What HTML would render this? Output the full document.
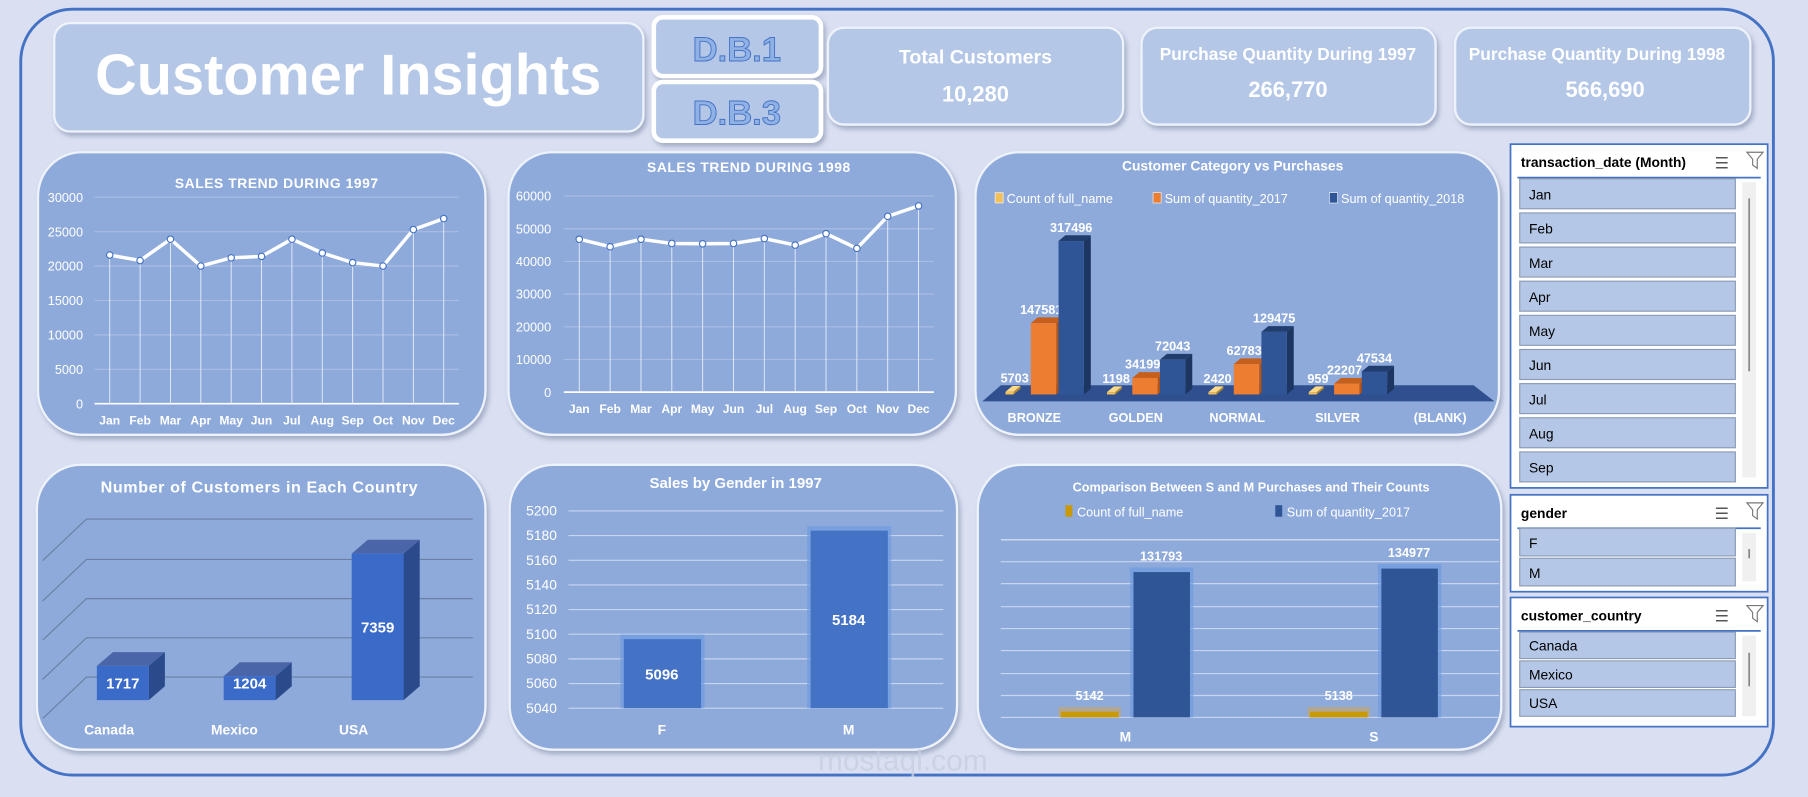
<!DOCTYPE html>
<html><head><meta charset="utf-8">
<style>
html,body{margin:0;padding:0;background:#dae0f2;}
svg{display:block;font-family:"Liberation Sans",sans-serif;}
</style></head>
<body>
<svg id="dash" width="1808" height="797" viewBox="0 0 1568 691" preserveAspectRatio="none" xmlns="http://www.w3.org/2000/svg">
<defs>
<filter id="sh" x="-10%" y="-10%" width="120%" height="130%"><feDropShadow dx="2" dy="3" stdDeviation="2" flood-color="#7f8aa8" flood-opacity="0.6"/></filter>
</defs>
<rect x="0" y="0" width="1568" height="691" fill="#dae0f2"/>
<rect x="18" y="8" width="1520" height="664" rx="45" fill="none" stroke="#4472c4" stroke-width="2.5"/>
<!-- header -->
<g>
<rect x="47" y="20" width="511" height="94" rx="14" fill="#b4c7e7" stroke="#eef2fa" stroke-width="2" filter="url(#sh)"/>
<text x="302" y="82" text-anchor="middle" font-size="50" font-weight="bold" fill="#ffffff">Customer Insights</text>
</g>
<g>
<rect x="567" y="15" width="145" height="51" rx="8" fill="#b4c7e7" stroke="#ffffff" stroke-width="4" filter="url(#sh)"/>
<text x="639" y="53" text-anchor="middle" font-size="30" font-weight="bold" fill="#8fb1e6" stroke="#4472c4" stroke-width="0.8">D.B.1</text>
</g>
<g>
<rect x="567" y="71" width="145" height="51" rx="8" fill="#b4c7e7" stroke="#ffffff" stroke-width="4" filter="url(#sh)"/>
<text x="639" y="108" text-anchor="middle" font-size="30" font-weight="bold" fill="#8fb1e6" stroke="#4472c4" stroke-width="0.8">D.B.3</text>
</g>
<g>
<rect x="718" y="24" width="256" height="84" rx="14" fill="#b4c7e7" stroke="#eef2fa" stroke-width="2" filter="url(#sh)"/>
<text x="846" y="55" text-anchor="middle" font-size="17" font-weight="bold" fill="#fff">Total Customers</text>
<text x="846" y="88" text-anchor="middle" font-size="19" font-weight="bold" fill="#fff">10,280</text>
</g>
<g>
<rect x="990" y="24" width="255" height="84" rx="14" fill="#b4c7e7" stroke="#eef2fa" stroke-width="2" filter="url(#sh)"/>
<text x="1117" y="52" text-anchor="middle" font-size="15" font-weight="bold" fill="#fff">Purchase Quantity During 1997</text>
<text x="1117" y="84" text-anchor="middle" font-size="19" font-weight="bold" fill="#fff">266,770</text>
</g>
<g>
<rect x="1262" y="24" width="256" height="84" rx="14" fill="#b4c7e7" stroke="#eef2fa" stroke-width="2" filter="url(#sh)"/>
<text x="1385" y="52" text-anchor="middle" font-size="15" font-weight="bold" fill="#fff">Purchase Quantity During 1998</text>
<text x="1392" y="84" text-anchor="middle" font-size="19" font-weight="bold" fill="#fff">566,690</text>
</g>
<!-- panels -->
<g fill="#8eaadb" stroke="#eef2fa" stroke-width="2">
<rect x="33" y="132" width="388" height="245" rx="38" filter="url(#sh)"/>
<rect x="441" y="132" width="388" height="245" rx="38" filter="url(#sh)"/>
<rect x="846" y="132" width="454" height="245" rx="38" filter="url(#sh)"/>
<rect x="32" y="403" width="389" height="247" rx="38" filter="url(#sh)"/>
<rect x="442" y="403" width="388" height="247" rx="38" filter="url(#sh)"/>
<rect x="848" y="403" width="454" height="247" rx="38" filter="url(#sh)"/>
</g>
<g id="charts"></g>
<g id="slicers"></g>
<text x="783" y="668" text-anchor="middle" font-size="26" fill="#c8cfe0" opacity="0.8">mostaql.com</text>
</svg>
<script>
const months=["Jan","Feb","Mar","Apr","May","Jun","Jul","Aug","Sep","Oct","Nov","Dec"];
const sales1997=[21600,20800,23900,20000,21200,21400,23900,21900,20500,20000,25300,26900];
const sales1998=[46800,44500,46800,45500,45400,45500,47000,45000,48500,44000,53800,57000];
const ticks1997=[0,5000,10000,15000,20000,25000,30000];
const ticks1998=[0,10000,20000,30000,40000,50000,60000];
const catNames=["BRONZE","GOLDEN","NORMAL","SILVER","(BLANK)"];
const catCount=[5703,1198,2420,959,0];
const catQ2017=[147581,34199,62783,22207,0];
const catQ2018=[317496,72043,129475,47534,0];
const countries=["Canada","Mexico","USA"];
const countryCustomers=[1717,1204,7359];
const genders=["F","M"];
const genderSales=[5096,5184];
const genderTicks=[5040,5060,5080,5100,5120,5140,5160,5180,5200];
const cmpCats=["M","S"];
const cmpCount=[5142,5138];
const cmpQty=[131793,134977];
const NS="http://www.w3.org/2000/svg";
const root=document.getElementById('charts');
function mk(tag,attrs,parent,txt){const e=document.createElementNS(NS,tag);for(const k in attrs)e.setAttribute(k,attrs[k]);if(txt!==undefined)e.textContent=txt;(parent||root).appendChild(e);return e;}

function lineChart(name,title,titleY,data,ticks,x0,x1,yTop,yBot,axisX){
  const g=mk('g',{});
  
  
  const max=ticks[ticks.length-1];
  const ys=v=>yBot-(v/max)*(yBot-yTop);
  const step=(x1-x0)/data.length;
  const xs=i=>x0+step*(i+0.5);
  const t=mk('text',{x:(x0+x1)/2,y:titleY,'text-anchor':'middle','font-size':12,'font-weight':'bold',fill:'#fff','letter-spacing':'0.5'},g,title);
  
  
  ticks.forEach(v=>{
    const l=mk('line',{x1:x0,x2:x1,y1:ys(v),y2:ys(v),stroke:v===0?'#ffffff':'#a9bde3','stroke-width':v===0?1.5:1},g);
    
    
    const tl=mk('text',{x:axisX,y:ys(v)+4,'text-anchor':'end','font-size':11,fill:'#fff'},g,v);
    
    
  });
  let pts=[];
  data.forEach((v,i)=>{
    const dl=mk('line',{x1:xs(i),x2:xs(i),y1:ys(v),y2:yBot,stroke:'#e6ecf8','stroke-width':0.8},g);
    
    
    pts.push(xs(i)+','+ys(v));
    const ml=mk('text',{x:xs(i),y:yBot+18,'text-anchor':'middle','font-size':10.5,'font-weight':'bold',fill:'#fff'},g,months[i]);
    
    
  });
  const pl=mk('polyline',{points:pts.join(' '),fill:'none',stroke:'#ffffff','stroke-width':3},g);
  
  
  data.forEach((v,i)=>{
    const c=mk('circle',{cx:xs(i),cy:ys(v),r:2.8,fill:'#fff',stroke:'#4472c4','stroke-width':1},g);
    
    
  });
}
lineChart('sales-trend-1997-chart','SALES TREND DURING 1997',163,sales1997,ticks1997,82,398,171,350,72);
lineChart('sales-trend-1998-chart','SALES TREND DURING 1998',149,sales1998,ticks1998,489,810,170,340,478);

// category 3D-ish chart
(function(){
  const g=mk('g',{});
  
  
  const t=mk('text',{x:1069,y:148,'text-anchor':'middle','font-size':12,'font-weight':'bold',fill:'#fff'},g,'Customer Category vs Purchases');
  
  
  const leg=[['Count of full_name','#f2c15c',863],['Sum of quantity_2017','#ed7d31',1000],['Sum of quantity_2018','#2f5597',1153]];
  leg.forEach(l=>{
    const r=mk('rect',{x:l[2],y:167,width:7,height:9,fill:l[1],stroke:'#fff','stroke-width':0.5},g);
    
    
    const tx=mk('text',{x:l[2]+10,y:176,'font-size':11,fill:'#fff'},g,l[0]);
    
    
  });
  const base=342, scale=133/317496;
  const floor=mk('polygon',{points:'852,348 1296,348 1278,334 868,334',fill:'#2f4f8f'},g);
  
  
  const centers=[897,985,1073,1160,1249];
  function bar3d(x,w,v,col,top,side,label,lx){
    const h=Math.max(2,v*scale), y=base-h;
    const s=mk('polygon',{points:`${x+w},${y} ${x+w+6},${y-5} ${x+w+6},${base-5} ${x+w},${base}`,fill:side},g);
    
    
    const tp=mk('polygon',{points:`${x},${y} ${x+6},${y-5} ${x+w+6},${y-5} ${x+w},${y}`,fill:top},g);
    
    
    const r=mk('rect',{x:x,y:y,width:w,height:h,fill:col},g);
    
    
    if(label!==null){
      const tx=mk('text',{x:lx,y:y-8,'text-anchor':'middle','font-size':11,'font-weight':'bold',fill:'#fff'},g,label);
      
      
    }
  }
  catNames.forEach((n,i)=>{
    const c=centers[i];
    if(i<4){
      bar3d(c-25,7,catCount[i],'#f2c15c','#ffd98a','#b08a30',catCount[i],c-17);
      bar3d(c-3,22,catQ2017[i],'#ed7d31','#c65f1c','#b35316',catQ2017[i],c+6);
      bar3d(c+21,22,catQ2018[i],'#2f5597','#203d6e','#1d3561',catQ2018[i],c+32);
    }
    const xl=mk('text',{x:c,y:366,'text-anchor':'middle','font-size':11,'font-weight':'bold',fill:'#fff'},g,n);
    
    
  });
})();

// country chart
(function(){
  const g=mk('g',{});
  
  
  const t=mk('text',{x:225,y:427,'text-anchor':'middle','font-size':14,'font-weight':'bold',fill:'#fff','letter-spacing':'0.5'},g,'Number of Customers in Each Country');
  
  
  [450,485,519,553,587].forEach(y=>{
    const l=mk('polyline',{points:`37,${y+36} 75,${y} 410,${y}`,fill:'none',stroke:'#6b7fa3','stroke-width':1},g);
    
    
  });
  const base=607, scale=127/7359, xs=[84,194,305];
  countries.forEach((c,i)=>{
    const h=countryCustomers[i]*scale, x=xs[i], y=base-h, w=45;
    const s=mk('polygon',{points:`${x+w},${y} ${x+w+14},${y-12} ${x+w+14},${base-12} ${x+w},${base}`,fill:'#2a4a8c'},g);
    
    
    const tp=mk('polygon',{points:`${x},${y} ${x+14},${y-12} ${x+w+14},${y-12} ${x+w},${y}`,fill:'#4a66a8'},g);
    
    
    const r=mk('rect',{x:x,y:y,width:w,height:h,fill:'#3a6bc9'},g);
    
    
    const lb=mk('text',{x:x+w/2,y:Math.min(y+h/2+5,base-10),'text-anchor':'middle','font-size':13,'font-weight':'bold',fill:'#fff'},g,countryCustomers[i]);
    
    
    const xl=mk('text',{x:x-11+[0,0,0][i],y:637,'font-size':12,'font-weight':'bold',fill:'#fff'},g,c);
    
    
  });
})();

// gender chart
(function(){
  const g=mk('g',{});
  
  
  const t=mk('text',{x:638,y:423,'text-anchor':'middle','font-size':13,'font-weight':'bold',fill:'#fff'},g,'Sales by Gender in 1997');
  
  
  const min=genderTicks[0],max=genderTicks[genderTicks.length-1],yT=443,yB=614;
  const ys=v=>yB-(v-min)/(max-min)*(yB-yT);
  genderTicks.forEach(v=>{
    const l=mk('line',{x1:493,x2:818,y1:ys(v),y2:ys(v),stroke:'#c9d5ee','stroke-width':1},g);
    
    
    const tl=mk('text',{x:483,y:ys(v)+4,'text-anchor':'end','font-size':12,fill:'#fff'},g,v);
    
    
  });
  const xs=[541,703];
  genders.forEach((gn,i)=>{
    const y=ys(genderSales[i]);
    const gl=mk('rect',{x:xs[i]-3,y:y-4,width:73,height:yB-y+4,fill:'#6f9be0',opacity:0.7},g);
    
    
    const r=mk('rect',{x:xs[i],y:y,width:67,height:yB-y,fill:'#4472c4'},g);
    
    
    const lb=mk('text',{x:xs[i]+33,y:(y+yB)/2+5,'text-anchor':'middle','font-size':13,'font-weight':'bold',fill:'#fff'},g,genderSales[i]);
    
    
    const xl=mk('text',{x:xs[i]+33,y:637,'text-anchor':'middle','font-size':12,'font-weight':'bold',fill:'#fff'},g,gn);
    
    
  });
})();

// comparison chart
(function(){
  const g=mk('g',{});
  
  
  const t=mk('text',{x:1085,y:426,'text-anchor':'middle','font-size':11,'font-weight':'bold',fill:'#fff'},g,'Comparison Between S and M Purchases and Their Counts');
  
  
  [['Count of full_name','#c99a06',924],['Sum of quantity_2017','#2f5597',1106]].forEach(l=>{
    const r=mk('rect',{x:l[2],y:438,width:6,height:10,fill:l[1]},g);
    
    
    const tx=mk('text',{x:l[2]+10,y:448,'font-size':11,fill:'#fff'},g,l[0]);
    
    
  });
  const yB=622, scale=126/131793;
  [468,487,506,526,545,564,584,603,622].forEach((y,i)=>{
    const l=mk('line',{x1:868,x2:1300,y1:y,y2:y,stroke:i===0?'#e0e7f5':'#c9d5ee','stroke-width':1},g);
    
    
  });
  const cx=[920,1136], bx=[983,1198];
  cmpCats.forEach((c,i)=>{
    const hc=Math.max(5,cmpCount[i]*scale);
    const gc=mk('rect',{x:cx[i]-2,y:yB-hc-4,width:54,height:hc+4,fill:'#d6a64a',opacity:0.5},g);
    
    
    const rc=mk('rect',{x:cx[i],y:yB-hc,width:50,height:hc,fill:'#c99a06'},g);
    
    
    const lc=mk('text',{x:cx[i]+25,y:yB-hc-10,'text-anchor':'middle','font-size':11,'font-weight':'bold',fill:'#fff'},g,cmpCount[i]);
    
    
    const h=cmpQty[i]*scale;
    const gq=mk('rect',{x:bx[i]-3,y:yB-h-4,width:55,height:h+4,fill:'#6f9be0',opacity:0.7},g);
    
    
    const rq=mk('rect',{x:bx[i],y:yB-h,width:49,height:h,fill:'#2f5597'},g);
    
    
    const lq=mk('text',{x:bx[i]+24,y:yB-h-10,'text-anchor':'middle','font-size':11,'font-weight':'bold',fill:'#fff'},g,cmpQty[i]);
    
    
    const xl=mk('text',{x:(cx[i]+bx[i]+49)/2,y:643,'text-anchor':'middle','font-size':12,'font-weight':'bold',fill:'#fff'},g,c);
    
    
  });
})();

// slicers
const sl=document.getElementById('slicers');
function slicer(name,title,x,y,w,h,items,itemY,scrollY){
  const g=mk('g',{},sl);
  
  
  mk('rect',{x:x,y:y,width:w,height:h,fill:'#ffffff',stroke:'#4472c4','stroke-width':1.5},g);
  const tt=mk('text',{x:x+9,y:y+20,'font-size':12,'font-weight':'bold',fill:'#000'},g,title);
  
  
  const ms=mk('text',{x:x+w-46,y:y+21,'font-size':14,fill:'#555'},g,'☰');
  
  
  const cf=mk('path',{d:`M${x+w-18},${y+7} h14 l-5,6 v8 l-4,-3 v-5 z`,fill:'none',stroke:'#777','stroke-width':1},g);
  
  
  mk('line',{x1:x+6,x2:x+w-6,y1:y+29,y2:y+29,stroke:'#4472c4','stroke-width':1.5},g);
  mk('rect',{x:x+w-22,y:y+33,width:12,height:h-42,fill:'#f0f0f0'},g);
  mk('line',{x1:x+w-16,x2:x+w-16,y1:scrollY[0],y2:scrollY[1],stroke:'#888','stroke-width':1.5},g);
  items.forEach((it,i)=>{
    const yy=itemY+i*(it.step||0);
  });
  return g;
}
const monthItems=months.slice(0,9);
const gS=slicer('month-slicer','transaction_date (Month)',1310,125,223,298,monthItems,155,[172,322]);
monthItems.forEach((m,i)=>{
  const r=mk('rect',{x:1318,y:155+i*29.6,width:187,height:26,fill:'#b4c7e7',stroke:'#8c9bb5','stroke-width':1},gS);
  
  
  const t=mk('text',{x:1326,y:173+i*29.6,'font-size':12,fill:'#000'},gS,m);
  
  
});
const gG=slicer('gender-slicer','gender',1310,429,223,84,genders,458,[476,484]);
genders.forEach((m,i)=>{
  const r=mk('rect',{x:1318,y:458+i*26,width:187,height:24,fill:'#b4c7e7',stroke:'#8c9bb5','stroke-width':1},gG);
  
  
  const t=mk('text',{x:1326,y:475+i*26,'font-size':12,fill:'#000'},gG,m);
  
  
});
const gC=slicer('country-slicer','customer_country',1310,518,223,112,countries,548,[566,595]);
countries.forEach((m,i)=>{
  const r=mk('rect',{x:1318,y:548+i*25,width:187,height:23,fill:'#b4c7e7',stroke:'#8c9bb5','stroke-width':1},gC);
  
  
  const t=mk('text',{x:1326,y:564+i*25,'font-size':12,fill:'#000'},gC,m);
  
  
});
</script>
</body></html>
